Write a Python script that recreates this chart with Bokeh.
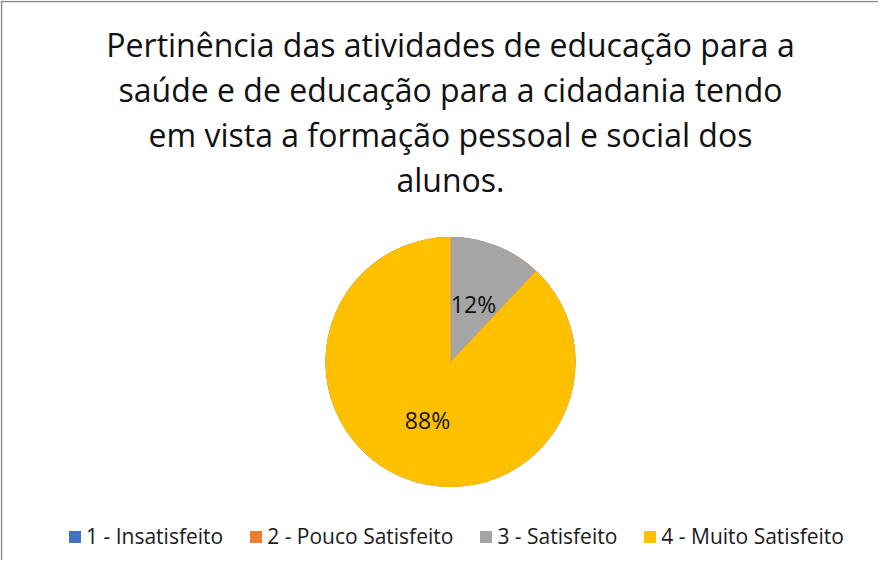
import math
from bokeh.plotting import figure
from bokeh.models import ColumnDataSource, Range1d, Legend, LegendItem, Span
from bokeh.core.properties import value
from bokeh.embed import file_html
from bokeh.resources import INLINE

# ---- data ----
categories = ["1 - Insatisfeito", "2 - Pouco Satisfeito", "3 - Satisfeito", "4 - Muito Satisfeito"]
percentages = [0, 0, 12, 88]
colors = ["#4472C4", "#ED7D31", "#A5A5A5", "#FFC000"]
title_lines = [
    "Pertinência das atividades de educação para a",
    "saúde e de educação para a cidadania tendo",
    "em vista a formação pessoal e social dos",
    "alunos.",
]

W, H = 878, 560
FONT = "Open Sans"

p = figure(width=W, height=H, output_backend="svg", toolbar_location=None,
           x_range=Range1d(0, W), y_range=Range1d(0, H), min_border=0,
           background_fill_color="white", border_fill_color="white")
p.axis.visible = False
p.grid.visible = False
p.outline_line_color = None

# border (left and top edges, as in the reference crop)
p.add_layout(Span(location=1, dimension="height", line_color="#8c8c8c", line_width=1.5))
p.add_layout(Span(location=H - 1, dimension="width", line_color="#8c8c8c", line_width=1.5))

# ---- pie ----
cx, cy, R = 450, 198.5, 125
total = sum(percentages)
starts, ends = [], []
cum = 0.0
for v in percentages:
    starts.append(math.pi / 2 - 2 * math.pi * cum / total)
    cum += v
    ends.append(math.pi / 2 - 2 * math.pi * cum / total)

src = ColumnDataSource(dict(cat=categories, val=percentages, color=colors,
                            start=starts, end=ends))
pie = p.wedge(x=cx, y=cy, radius=R, start_angle="start", end_angle="end",
              direction="clock", fill_color="color", line_color=None, source=src)

# data labels
lx, ly, lt = [], [], []
for v, s, e in zip(percentages, starts, ends):
    if v <= 0:
        continue
    mid = (s + e) / 2
    lx.append(cx + 0.5 * R * math.cos(mid))
    ly.append(cy + 0.5 * R * math.sin(mid))
    lt.append(f"{v:.0f}%")
p.text(x=lx, y=ly, text=lt, text_align="center", text_baseline="middle",
       text_font=value(FONT), text_font_size="23px", text_color="#111111")

# title
ty = [H - 44 - 45 * i for i in range(len(title_lines))]
p.text(x=[450] * len(title_lines), y=ty, text=title_lines, text_align="center",
       text_baseline="alphabetic", text_font=value(FONT), text_font_size="32px",
       text_color="#111111")

# legend
items = [LegendItem(label=c, renderers=[pie], index=i) for i, c in enumerate(categories)]
legend = Legend(items=items, orientation="horizontal", location=(67, 10),
                glyph_width=15, glyph_height=15, label_standoff=4, spacing=25,
                padding=0, margin=0, border_line_color=None, background_fill_alpha=0,
                label_text_font=FONT, label_text_font_size="21px",
                label_text_color="#1a1a1a", label_height=20)
p.add_layout(legend, "center")

open("out.html", "w").write(file_html(p, INLINE))
